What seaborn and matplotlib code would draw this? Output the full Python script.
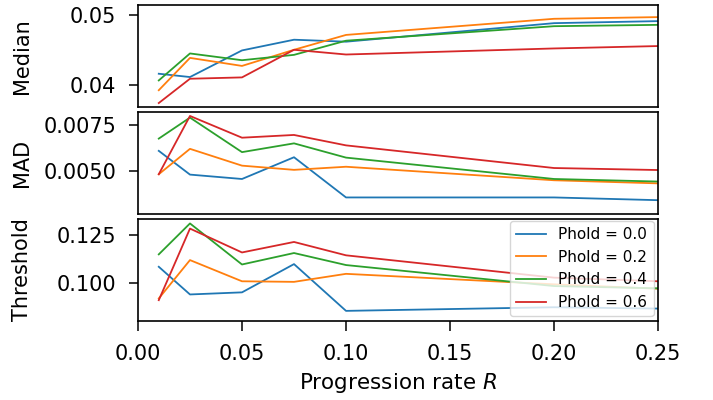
import numpy as np
import pandas as pd
import matplotlib
matplotlib.use("Agg")
import matplotlib.pyplot as plt
import seaborn as sns

rates = [0.01, 0.025, 0.05, 0.075, 0.1, 0.2, 0.25]
phold_labels = ["Phold = 0.0", "Phold = 0.2", "Phold = 0.4", "Phold = 0.6"]

median_p00 = [0.04167, 0.0412, 0.04498, 0.0465, 0.04622, 0.04885, 0.04914]
median_p02 = [0.03933, 0.04392, 0.04278, 0.04507, 0.04718, 0.04947, 0.04971]
median_p04 = [0.04072, 0.04455, 0.04359, 0.04435, 0.04636, 0.04842, 0.04861]
median_p06 = [0.03751, 0.04096, 0.04115, 0.04507, 0.0444, 0.04526, 0.0456]

mad_p00 = [0.00611, 0.00481, 0.00457, 0.00576, 0.00356, 0.00356, 0.00341]
mad_p02 = [0.00483, 0.00622, 0.0053, 0.00507, 0.00524, 0.0045, 0.00433]
mad_p04 = [0.00678, 0.00793, 0.00604, 0.00652, 0.00574, 0.00457, 0.00443]
mad_p06 = [0.00483, 0.00802, 0.00683, 0.00698, 0.00641, 0.00517, 0.00506]

thr_p00 = [0.1083, 0.0938, 0.0949, 0.1097, 0.0852, 0.0871, 0.0864]
thr_p02 = [0.0917, 0.1118, 0.1007, 0.1004, 0.1046, 0.0991, 0.0968]
thr_p04 = [0.1148, 0.1310, 0.1095, 0.1155, 0.1092, 0.0982, 0.0970]
thr_p06 = [0.0908, 0.1283, 0.1158, 0.1213, 0.1143, 0.1026, 0.1007]

metrics = {
    "Median": [median_p00, median_p02, median_p04, median_p06],
    "MAD": [mad_p00, mad_p02, mad_p04, mad_p06],
    "Threshold": [thr_p00, thr_p02, thr_p04, thr_p06],
}
ylims = {"Median": (0.0369, 0.0514), "MAD": (0.00265, 0.00824), "Threshold": (0.0800, 0.1335)}
yticks = {"Median": [0.04, 0.05], "MAD": [0.0050, 0.0075], "Threshold": [0.100, 0.125]}
yfmt = {"Median": "{:.2f}", "MAD": "{:.4f}", "Threshold": "{:.3f}"}

palette = ["#1f77b4", "#ff7f0e", "#2ca02c", "#d62728"]

rows = []
for metric, series in metrics.items():
    for lab, vals in zip(phold_labels, series):
        for r, v in zip(rates, vals):
            rows.append({"metric": metric, "Phold": lab, "R": r, "value": v})
df = pd.DataFrame(rows)

fig, axes = plt.subplots(3, 1, figsize=(7.13, 4.0), dpi=100, sharex=True)
fig.subplots_adjust(left=0.1935, right=0.923, top=0.987, bottom=0.198, hspace=0.045)

for ax, metric in zip(axes, metrics.keys()):
    sub = df[df["metric"] == metric]
    sns.lineplot(data=sub, x="R", y="value", hue="Phold", hue_order=phold_labels,
                 palette=palette, linewidth=1.3, ax=ax, legend=(metric == "Threshold"))
    ax.set_ylim(*ylims[metric])
    ax.set_yticks(yticks[metric])
    ax.set_yticklabels([yfmt[metric].format(t) for t in yticks[metric]])
    ax.set_ylabel(metric, fontsize=15, labelpad=8)
    ax.set_xlabel("")
    ax.tick_params(axis="y", labelsize=15, length=6.5, width=1.1, pad=9)
    ax.tick_params(axis="x", labelsize=15, length=7, width=1.1, pad=10)
    for s in ax.spines.values():
        s.set_linewidth(1.2)

for ax in axes[:2]:
    ax.tick_params(axis="x", bottom=False, labelbottom=False)

axes[-1].set_xlim(0, 0.25)
axes[-1].set_xticks([0.0, 0.05, 0.10, 0.15, 0.20, 0.25])
axes[-1].set_xticklabels(["0.00", "0.05", "0.10", "0.15", "0.20", "0.25"])
axes[-1].set_xlabel("Progression rate $R$", fontsize=15.5, labelpad=5)
leg = axes[-1].legend(loc="lower right", fontsize=11, title=None, borderaxespad=0.3)
fig.align_ylabels(axes)

fig.savefig("out.png", dpi=100)
